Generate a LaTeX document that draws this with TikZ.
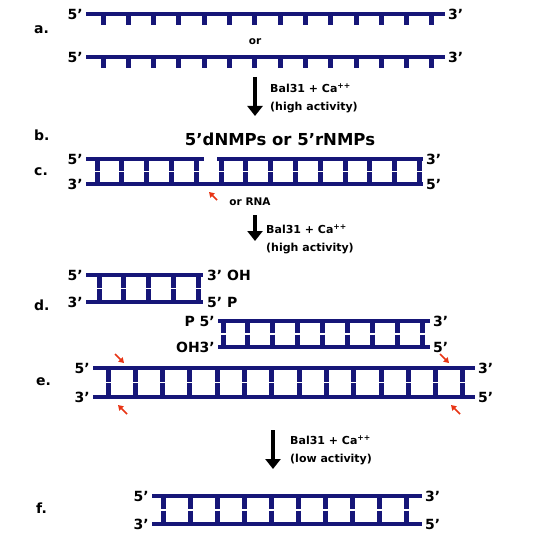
\documentclass[tikz,border=0pt]{standalone}
\usepackage{fontspec}
\setmainfont{DejaVu Sans}
\usetikzlibrary{arrows.meta}

\definecolor{dnablue}{RGB}{22,22,120}
\definecolor{cutred}{RGB}{232,52,20}

% rungs of a duplex: top y, bottom y, list of x
\newcommand{\rungs}[3]{%
  \foreach \rx in {#3}{%
    \draw[rung] (\rx,#1) -- (\rx,{(#1+#2)/2-0.6});
    \draw[rung] (\rx,{(#1+#2)/2+0.6}) -- (\rx,#2);
  }}

\begin{document}
\begin{tikzpicture}[x=1pt, y=-1pt,
    strand/.style={draw=dnablue, line width=4.2pt},
    rung/.style={draw=dnablue, line width=5pt},
    endlab/.style={font=\bfseries\fontsize{14}{14}\selectfont, inner sep=0pt},
    rowlab/.style={font=\bfseries\fontsize{14}{14}\selectfont, inner sep=0pt, anchor=west},
    enzlab/.style={font=\bfseries\fontsize{11}{18}\selectfont, align=left, inner sep=0pt, anchor=west},
    react/.style={-{Triangle[length=10pt,width=15pt]}, line width=3.2pt},
    cut/.style={-{Triangle[length=5pt,width=6pt]}, draw=cutred, line width=1.6pt}
  ]
    \useasboundingbox[fill=white] (0,0) rectangle (539,540);

    % a. single strands
    \draw[strand] (86,14) -- (445,14);
    \foreach \rx in {103,128.3,...,434} \draw[rung] (\rx,14) -- (\rx,25);
    \draw[strand] (86,57) -- (445,57);
    \foreach \rx in {103,128.3,...,434} \draw[rung] (\rx,57) -- (\rx,68);
    \node[rowlab] (la) at (34,30) {a.};
    \node[endlab, anchor=east] (a1l) at (83,14) {5’};
    \node[endlab, anchor=west] (a1r) at (448,14) {3’};
    \node[font=\bfseries\fontsize{10.5}{10}\selectfont, inner sep=0pt] (aor) at (255,42) {or};
    \node[endlab, anchor=east] (a2l) at (83,57) {5’};
    \node[endlab, anchor=west] (a2r) at (448,57) {3’};

    \coordinate (r1s) at (255,77);
    \coordinate (r1e) at (255,116);
    \draw[react] (r1s) -- (r1e);
    \node[enzlab] (r1t) at (270,98) {Bal31 + Ca\textsuperscript{++}\\(high activity)};

    % b. products
    \node[rowlab] (lb) at (34,135) {b.};
    \node[font=\bfseries\fontsize{16.5}{16}\selectfont, inner sep=0pt] (nmp) at (280,139) {5’dNMPs or 5’rNMPs};

    % c. nicked duplex
    \rungs{159}{184}{97,121.8,...,421}
    \draw[strand] (86,159) -- (204,159);
    \draw[strand] (217,159) -- (423,159);
    \draw[strand] (86,184) -- (423,184);
    \node[rowlab] (lc) at (34,172) {c.};
    \node[endlab, anchor=east] (c1l) at (83,159) {5’};
    \node[endlab, anchor=east] (c2l) at (83,184) {3’};
    \node[endlab, anchor=west] (c1r) at (426,159) {3’};
    \node[endlab, anchor=west] (c2r) at (426,184) {5’};
    \coordinate (cc1) at (217,200);
    \coordinate (cc2) at (209,192);
    \draw[cut] (cc1) -- (cc2);
    \node[font=\bfseries\fontsize{10.5}{10}\selectfont, inner sep=0pt] (rna) at (250,202) {or RNA};

    \coordinate (r2s) at (255,215);
    \coordinate (r2e) at (255,241);
    \draw[react] (r2s) -- (r2e);
    \node[enzlab] (r2t) at (266,239) {Bal31 + Ca\textsuperscript{++}\\(high activity)};

    % d. two fragments
    \rungs{275}{302}{99,123.8,...,200}
    \draw[strand] (86,275) -- (203,275);
    \draw[strand] (86,302) -- (203,302);
    \node[rowlab] (ld) at (34,305) {d.};
    \node[endlab, anchor=east] (d1l) at (83,275) {5’};
    \node[endlab, anchor=east] (d2l) at (83,302) {3’};
    \node[endlab, anchor=west] (d1r) at (207,275) {3’ OH};
    \node[endlab, anchor=west] (d2r) at (207,302) {5’ P};
    \rungs{321}{347}{223,247.9,...,424}
    \draw[strand] (218,321) -- (430,321);
    \draw[strand] (218,347) -- (430,347);
    \node[endlab, anchor=east] (d3l) at (215,321) {P 5’};
    \node[endlab, anchor=east] (d4l) at (215,347) {OH3’};
    \node[endlab, anchor=west] (d3r) at (433,321) {3’};
    \node[endlab, anchor=west] (d4r) at (433,347) {5’};

    % e. long duplex
    \rungs{368}{397}{108,135.3,...,464}
    \draw[strand] (93,368) -- (475,368);
    \draw[strand] (93,397) -- (475,397);
    \node[rowlab] (le) at (36,382) {e.};
    \node[endlab, anchor=east] (e1l) at (90,368) {5’};
    \node[endlab, anchor=east] (e2l) at (90,397) {3’};
    \node[endlab, anchor=west] (e1r) at (478,368) {3’};
    \node[endlab, anchor=west] (e2r) at (478,397) {5’};
    \coordinate (ea1) at (115,354);
    \coordinate (ea2) at (124,363);
    \coordinate (eb1) at (440,354);
    \coordinate (eb2) at (449,363);
    \coordinate (ec1) at (127,414);
    \coordinate (ec2) at (118,405);
    \coordinate (ed1) at (460,414);
    \coordinate (ed2) at (451,405);
    \draw[cut] (ea1) -- (ea2);
    \draw[cut] (eb1) -- (eb2);
    \draw[cut] (ec1) -- (ec2);
    \draw[cut] (ed1) -- (ed2);

    \coordinate (r3s) at (273,430);
    \coordinate (r3e) at (273,469);
    \draw[react] (r3s) -- (r3e);
    \node[enzlab] (r3t) at (290,450) {Bal31 + Ca\textsuperscript{++}\\(low activity)};

    % f. shortened duplex
    \rungs{496}{524}{163,190.1,...,409}
    \draw[strand] (152,496) -- (422,496);
    \draw[strand] (152,524) -- (422,524);
    \node[rowlab] (lf) at (36,508) {f.};
    \node[endlab, anchor=east] (f1l) at (149,496) {5’};
    \node[endlab, anchor=east] (f2l) at (149,524) {3’};
    \node[endlab, anchor=west] (f1r) at (425,496) {3’};
    \node[endlab, anchor=west] (f2r) at (425,524) {5’};
\end{tikzpicture}
\end{document}
